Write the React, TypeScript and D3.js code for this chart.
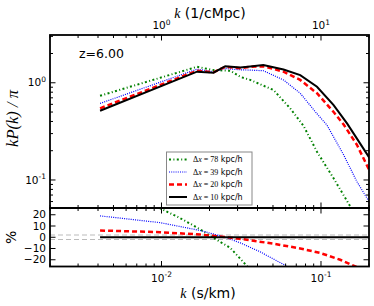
import React from 'react';
import * as d3 from 'd3';

// k in s/km, kP(k)/pi for each resolution
const kBlack = [0.00412, 0.0167, 0.0212, 0.0251, 0.0312, 0.036, 0.0435, 0.0582, 0.0741, 0.0944, 0.12, 0.146, 0.199, 0.23];
const pBlack = [0.515, 1.3, 1.27, 1.48, 1.44, 1.47, 1.52, 1.37, 1.2, 0.91, 0.59, 0.38, 0.174, 0.12];

const kRed = [0.00412, 0.0167, 0.0212, 0.0251, 0.0312, 0.036, 0.0435, 0.0582, 0.0741, 0.0944, 0.12, 0.139, 0.168, 0.199, 0.23];
const pRed = [0.546, 1.33, 1.28, 1.46, 1.41, 1.46, 1.48, 1.3, 1.07, 0.78, 0.5, 0.37, 0.23, 0.13, 0.09];

const kBlue = [0.00412, 0.0167, 0.0212, 0.0251, 0.0312, 0.036, 0.0435, 0.0582, 0.0741, 0.0944, 0.109, 0.139, 0.168, 0.199, 0.23];
const pBlue = [0.613, 1.38, 1.3, 1.4, 1.36, 1.35, 1.33, 1.07, 0.78, 0.48, 0.367, 0.18, 0.096, 0.061, 0.04];

const kGreen = [0.00412, 0.0167, 0.0212, 0.027, 0.0312, 0.036, 0.0505, 0.0641, 0.0778, 0.0944, 0.12, 0.153, 0.18];
const pGreen = [0.735, 1.46, 1.35, 1.33, 1.15, 1.07, 0.84, 0.545, 0.36, 0.195, 0.104, 0.053, 0.035];

// percent difference relative to dx=10 kpc/h
const kDiffBlue = [0.00412, 0.0098, 0.0175, 0.0251, 0.0312, 0.0416, 0.0597, 0.07];
const dBlue = [19, 13, 6, 0, -5, -13, -25, -32];
const kDiffRed = [0.00412, 0.0098, 0.0175, 0.024, 0.0335, 0.0517, 0.0741, 0.099, 0.132, 0.164, 0.2];
const dRed = [6, 4.5, 2.4, 0.5, -2, -6, -10, -14, -20, -26, -32];
const kDiffGreen = [0.00412, 0.0094, 0.0131, 0.0175, 0.0211, 0.027, 0.0326, 0.036];
const dGreen = [43, 27, 17, 7, -0.5, -9.5, -22, -29];
const kDiffBlack = [0.00412, 0.2];
const dBlack = [0, 0];

const legendLabels = ['78', '39', '20', '10'];
const yTopMajor = [0.1, 1];
const yTopLabels = ['-1', '0'];
const xMajor = [0.01, 0.1];
const xMajorLabels = ['-2', '-1'];
const xTopMajor = [1, 10];
const xTopLabels = ['0', '1'];
const yBotTicks = [20, 10, 0, -10, -20];

const L = 50, R = 369, T = 35, M = 208, B = 266.5;

const x = d3.scaleLog().domain([0.002, 0.2]).range([L, R]);
const xTop = d3.scaleLog().domain([0.2, 20]).range([L, R]);
const y = d3.scaleLog().domain([0.0515, 3.1]).range([M, T]);
const yB = d3.scaleLinear().domain([-26, 26]).range([B, M]);

const styles = [
  { color: '#008000', width: 2, dash: '2,2.4,1,2.4' },
  { color: '#0000ff', width: 1.2, dash: '1,1.2' },
  { color: '#ff0000', width: 2.5, dash: '5,3' },
  { color: '#000000', width: 2, dash: null as string | null },
];

const topSeries = [
  { k: kGreen, v: pGreen },
  { k: kBlue, v: pBlue },
  { k: kRed, v: pRed },
  { k: kBlack, v: pBlack },
];
const botSeries = [
  { k: kDiffGreen, v: dGreen },
  { k: kDiffBlue, v: dBlue },
  { k: kDiffRed, v: dRed },
  { k: kDiffBlack, v: dBlack },
];

const minorOf = (ticks: number[], majors: number[]) =>
  ticks.filter(t => !majors.some(m => Math.abs(m - t) / m < 1e-6));

export default function App() {
  const mkTop = (k: number[], v: number[]) =>
    d3.line<number>().x((_, i) => x(k[i])).y(d => y(d))(v) || '';
  const mkBot = (k: number[], v: number[]) =>
    d3.line<number>().x((_, i) => x(k[i])).y(d => yB(d))(v) || '';

  const xMinor = minorOf(x.ticks(), xMajor);
  const xTopMinor = minorOf(xTop.ticks(), xTopMajor);
  const yMinor = minorOf(y.ticks(), yTopMajor);

  const font = 'DejaVu Sans, sans-serif';
  const serif = 'Liberation Serif, DejaVu Serif, serif';

  return (
    <svg width={374} height={306} style={{ position: 'absolute', left: 0, top: 0 }}
      xmlns="http://www.w3.org/2000/svg">
      <rect width={374} height={306} fill="#fff" />
      <defs>
        <clipPath id="clipTop"><rect x={L} y={T} width={R - L} height={M - T} /></clipPath>
        <clipPath id="clipBot"><rect x={L} y={M} width={R - L} height={B - M} /></clipPath>
      </defs>

      {/* top panel curves */}
      <g clipPath="url(#clipTop)">
        {topSeries.map((s, i) => (
          <path key={i} d={mkTop(s.k, s.v)} fill="none" stroke={styles[i].color}
            strokeWidth={styles[i].width} strokeDasharray={styles[i].dash || undefined} />
        ))}
      </g>

      {/* bottom panel */}
      <g clipPath="url(#clipBot)">
        {[2, -2].map(v => (
          <line key={v} x1={L} x2={R} y1={yB(v)} y2={yB(v)} stroke="#aaa" strokeWidth={0.8} strokeDasharray="5,3" />
        ))}
        {botSeries.map((s, i) => (
          <path key={i} d={mkBot(s.k, s.v)} fill="none" stroke={styles[i].color}
            strokeWidth={styles[i].width} strokeDasharray={styles[i].dash || undefined} />
        ))}
      </g>

      {/* ticks */}
      <g stroke="#000" strokeWidth={1}>
        {xMajor.map(t => (
          <g key={'xm' + t}>
            <line x1={x(t)} x2={x(t)} y1={M - 5.5} y2={M + 5.5} />
            <line x1={x(t)} x2={x(t)} y1={B} y2={B - 5.5} />
          </g>
        ))}
        {xMinor.map(t => (
          <g key={'xn' + t}>
            <line x1={x(t)} x2={x(t)} y1={M - 3} y2={M + 3} />
            <line x1={x(t)} x2={x(t)} y1={B} y2={B - 3} />
          </g>
        ))}
        {xTopMajor.map(t => (
          <line key={'tm' + t} x1={xTop(t)} x2={xTop(t)} y1={T} y2={T + 5.5} />
        ))}
        {xTopMinor.map(t => (
          <line key={'tn' + t} x1={xTop(t)} x2={xTop(t)} y1={T} y2={T + 3} />
        ))}
        {yTopMajor.map(t => (
          <g key={'ym' + t}>
            <line x1={L} x2={L + 5.5} y1={y(t)} y2={y(t)} />
            <line x1={R} x2={R - 5.5} y1={y(t)} y2={y(t)} />
          </g>
        ))}
        {yMinor.map(t => (
          <g key={'yn' + t}>
            <line x1={L} x2={L + 3} y1={y(t)} y2={y(t)} />
            <line x1={R} x2={R - 3} y1={y(t)} y2={y(t)} />
          </g>
        ))}
        {yBotTicks.map(t => (
          <g key={'yb' + t}>
            <line x1={L} x2={L + 5.5} y1={yB(t)} y2={yB(t)} />
            <line x1={R} x2={R - 5.5} y1={yB(t)} y2={yB(t)} />
          </g>
        ))}
      </g>

      {/* frames */}
      <rect x={L} y={T} width={R - L} height={M - T} fill="none" stroke="#000" strokeWidth={1.8} />
      <rect x={L} y={M} width={R - L} height={B - M} fill="none" stroke="#000" strokeWidth={1.8} />

      {/* tick labels */}
      <g fontFamily={font} fontSize={10.5} fill="#000">
        {yTopMajor.map((t, i) => (
          <text key={'yl' + t} x={L - 4} y={y(t)} dy="0.35em" textAnchor="end">
            10<tspan fontSize={7.5} dy="-0.6em">{yTopLabels[i]}</tspan>
          </text>
        ))}
        {yBotTicks.map(t => (
          <text key={'bl' + t} x={L - 4} y={yB(t)} dy="0.35em" textAnchor="end">
            {t < 0 ? '\u2212' + Math.abs(t) : String(t)}
          </text>
        ))}
        {xMajor.map((t, i) => (
          <text key={'xl' + t} x={x(t)} y={B + 15} textAnchor="middle">
            10<tspan fontSize={7.5} dy="-0.6em">{xMajorLabels[i]}</tspan>
          </text>
        ))}
        {xTopMajor.map((t, i) => (
          <text key={'xt' + t} x={xTop(t)} y={T - 6} textAnchor="middle">
            10<tspan fontSize={7.5} dy="-0.6em">{xTopLabels[i]}</tspan>
          </text>
        ))}
      </g>

      {/* axis labels */}
      <text x={208} y={298} textAnchor="middle" fontFamily={font} fontSize={14}>
        <tspan fontFamily={serif} fontStyle="italic">k</tspan> (s/km)
      </text>
      <text x={210} y={18} textAnchor="middle" fontFamily={font} fontSize={14}>
        <tspan fontFamily={serif} fontStyle="italic">k</tspan> (1/cMpc)
      </text>
      <text transform={`translate(18,${(T + M) / 2 - 3}) rotate(-90)`} textAnchor="middle"
        fontFamily={serif} fontStyle="italic" fontSize={16.5}>
        kP(k) / π
      </text>
      <text transform={`translate(16,${yB(0)}) rotate(-90)`} textAnchor="middle"
        fontFamily={font} fontSize={14}>
        %
      </text>
      <text x={79} y={58} fontFamily={font} fontSize={12.5}>z=6.00</text>

      {/* legend */}
      <g>
        <rect x={166.5} y={152} width={85.5} height={53} fill="#fff" stroke="#888" strokeWidth={1} />
        {legendLabels.map((lab, i) => {
          const ly = 159.5 + i * 12.5;
          return (
            <g key={lab}>
              <line x1={169} x2={187} y1={ly} y2={ly} stroke={styles[i].color}
                strokeWidth={styles[i].width} strokeDasharray={styles[i].dash || undefined} />
              <text x={193} y={ly} dy="0.35em" fontSize={8} fontFamily={font}>
                <tspan fontFamily={serif}>Δ</tspan>
                <tspan fontFamily={serif} fontStyle="italic">x</tspan>
                <tspan fontFamily={serif}>{' = ' + lab}</tspan> kpc/h
              </text>
            </g>
          );
        })}
      </g>
    </svg>
  );
}
